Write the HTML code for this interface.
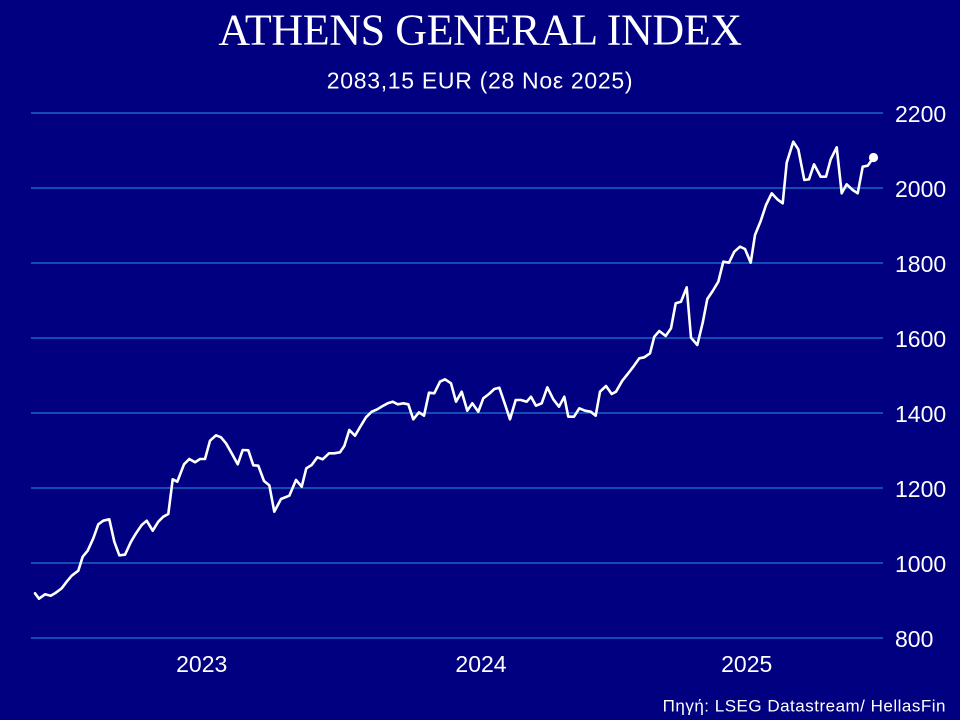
<!DOCTYPE html>
<html>
<head>
<meta charset="utf-8">
<style>
html,body{margin:0;padding:0;background:#000080;}
body{width:960px;height:720px;overflow:hidden;}
svg{display:block;}
</style>
</head>
<body>
<svg width="960" height="720" viewBox="0 0 960 720" xmlns="http://www.w3.org/2000/svg">
<rect x="0" y="0" width="960" height="720" fill="#000080"/>
<text x="480" y="44.5" text-anchor="middle" font-family="Liberation Serif, serif" font-size="44" letter-spacing="-0.4" fill="#ffffff">ATHENS GENERAL INDEX</text>
<text x="480" y="88.5" text-anchor="middle" font-family="Liberation Sans, sans-serif" font-size="23" letter-spacing="0.7" fill="#ffffff">2083,15 EUR (28 Νοε 2025)</text>
<g stroke="#1F78D4" stroke-width="1.2">
<line x1="31" y1="113" x2="883" y2="113"/>
<line x1="31" y1="188" x2="883" y2="188"/>
<line x1="31" y1="263" x2="883" y2="263"/>
<line x1="31" y1="338" x2="883" y2="338"/>
<line x1="31" y1="413" x2="883" y2="413"/>
<line x1="31" y1="488" x2="883" y2="488"/>
<line x1="31" y1="563" x2="883" y2="563"/>
<line x1="31" y1="638" x2="883" y2="638"/>
</g>
<g font-family="Liberation Sans, sans-serif" font-size="23" fill="#ffffff">
<text x="895" y="122">2200</text>
<text x="895" y="197">2000</text>
<text x="895" y="272">1800</text>
<text x="895" y="347">1600</text>
<text x="895" y="422">1400</text>
<text x="895" y="497">1200</text>
<text x="895" y="572">1000</text>
<text x="895" y="647">800</text>
<text x="201.7" y="672" text-anchor="middle">2023</text>
<text x="481" y="672" text-anchor="middle">2024</text>
<text x="746.7" y="672" text-anchor="middle">2025</text>
</g>
<text x="946" y="711.5" text-anchor="end" font-family="Liberation Sans, sans-serif" font-size="17" letter-spacing="0.5" fill="#ffffff">Πηγή: LSEG Datastream/ HellasFin</text>
<polyline fill="none" stroke="#ffffff" stroke-width="2.6" stroke-linejoin="round" stroke-linecap="round" points="
35,593.3 39,598.7 45,594.3 50.7,595.7 55,593.3 61.7,588.3 66.7,581.7 71.7,575.7 78.3,570.7 82.7,556.7
87.7,550.7 93.3,538.3 98.3,524.3 103.3,520.7 109.3,519.3 114.3,541.7 119.3,555.3 125,554.7 131,541.7 136,533.3
141.7,525 146.7,520.7 152.7,530.7 158.3,521.7 163.3,516.7 168.3,514 172.7,479.3 177.3,481.7 184,464.3 189.3,459
195,462.3 200,459 205,459 210,440.7 216,435.3 221,437.3 226,443.3 231.7,453.3 237.7,464.3 242.7,450
248.3,450.3 253.3,465.3 258.3,465.7 264,481 269.3,485.3 274.3,511.7 281,499 289.3,495.7 296,480 301.7,486.7
306.3,468.3 311.7,465 317.3,457.3 322.7,459.3 329,453.3 334.3,453.3 340,452.3 344.3,446 349.3,430 355,435.7
360.7,426 366,417.3 371.7,411.7 377.3,409.3 382.7,406 387.7,403.3 392.7,401.7 397.7,404.3 403.3,403.3 408.3,404.3
413.3,419.3 419,412.3 424,415.7 429,392.7 434.3,393.3 440,381.7 445,379.3 451,383.3 456,401.7 461.7,391.7
467.3,410.7 472.3,403.3 478.3,411.7 483.3,398.3 489,394 494.3,389 499.3,387.7 505,404.3 510,419.3 515.7,400
521,400 526.7,401.7 531,396.7 536,405.7 541.7,403.3 547.3,387.3 553.3,399.3 559,406.7 564.3,396.7 568.3,416.7
574,416.7 579.3,408.3 585,410.7 590.7,411.7 595.7,415.7 600,391.7 606,386 611.7,394 616,391.7 622.3,380.7
627.7,374 633.3,366.7 639.3,358.3 644.3,357.3 650,353.3 654.3,336.7 659.3,331 665.7,336 671,328.3 675.7,303.3
681,301.7 686.7,287.3 691,337.7 697.3,345 702.7,322.7 707.3,299 712.7,291 718.3,281.7 723.3,261.7 729,262.7
734.3,251.7 740,246.7 745,249 750.7,262.7 755,235 760.7,221 766,205 771.7,193.3 777.3,199.3 782.7,203.3
786.7,162.7 793.3,141.7 798.3,149.3 804.3,180 809,179.3 814,164.3 820.7,176.7 826,176.7 830.7,159.3 836.7,147.3
841.7,193.3 846.7,184.3 852.7,190 857.7,193.3 862.7,166.7 867.7,165.7 873.3,157.7"/>
<circle cx="873.5" cy="157.5" r="4.6" fill="#ffffff"/>
</svg>
</body>
</html>
